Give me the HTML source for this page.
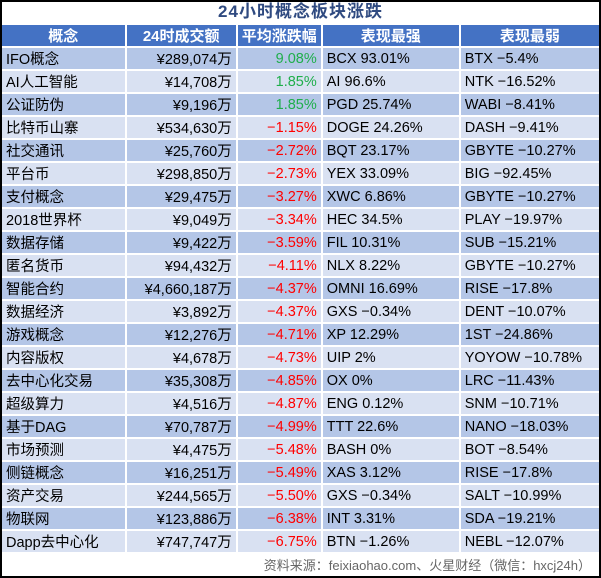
<!DOCTYPE html><html><head><meta charset="utf-8"><style>
body{margin:0;width:601px;height:578px;overflow:hidden;background:#fff;font-family:"Liberation Sans","Noto Sans CJK SC",sans-serif}
.frame{position:absolute;left:0;top:0;width:597px;height:574px;border:2px solid #000}
.title{position:absolute;left:0;top:0;width:601px;height:23px;line-height:24px;text-align:center;font-weight:bold;font-size:17px;letter-spacing:1px;color:#2f4a80}
table{position:absolute;left:0;top:23px;border-collapse:collapse;table-layout:fixed;font-size:14.5px}
td{height:21px;padding:0 4px;border:2px solid #fff;white-space:nowrap;overflow:hidden;color:#000}
tr.h td{background:#4472c4;color:#fff;font-weight:bold;text-align:center;font-size:15px}
tr:nth-child(even) td{background:#b4c6e7}
tr:nth-child(odd):not(.h) td{background:#d9e1f2}
td.r{text-align:right}
.g{color:#1fae4b!important}.d{color:#f00!important}
.foot{position:absolute;right:10px;top:555px;font-size:13px;color:#666}
</style></head><body>
<div class="title">24小时概念板块涨跌</div>
<table>
<colgroup><col style="width:126px"><col style="width:112px"><col style="width:82px"><col style="width:140px"><col style="width:141px"></colgroup>
<tr class="h"><td>概念</td><td>24时成交额</td><td>平均涨跌幅</td><td>表现最强</td><td>表现最弱</td></tr>
<tr><td>IFO概念</td><td class="r">¥289,074万</td><td class="r g">9.08%</td><td>BCX 93.01%</td><td>BTX −5.4%</td></tr>
<tr><td>AI人工智能</td><td class="r">¥14,708万</td><td class="r g">1.85%</td><td>AI 96.6%</td><td>NTK −16.52%</td></tr>
<tr><td>公证防伪</td><td class="r">¥9,196万</td><td class="r g">1.85%</td><td>PGD 25.74%</td><td>WABI −8.41%</td></tr>
<tr><td>比特币山寨</td><td class="r">¥534,630万</td><td class="r d">−1.15%</td><td>DOGE 24.26%</td><td>DASH −9.41%</td></tr>
<tr><td>社交通讯</td><td class="r">¥25,760万</td><td class="r d">−2.72%</td><td>BQT 23.17%</td><td>GBYTE −10.27%</td></tr>
<tr><td>平台币</td><td class="r">¥298,850万</td><td class="r d">−2.73%</td><td>YEX 33.09%</td><td>BIG −92.45%</td></tr>
<tr><td>支付概念</td><td class="r">¥29,475万</td><td class="r d">−3.27%</td><td>XWC 6.86%</td><td>GBYTE −10.27%</td></tr>
<tr><td>2018世界杯</td><td class="r">¥9,049万</td><td class="r d">−3.34%</td><td>HEC 34.5%</td><td>PLAY −19.97%</td></tr>
<tr><td>数据存储</td><td class="r">¥9,422万</td><td class="r d">−3.59%</td><td>FIL 10.31%</td><td>SUB −15.21%</td></tr>
<tr><td>匿名货币</td><td class="r">¥94,432万</td><td class="r d">−4.11%</td><td>NLX 8.22%</td><td>GBYTE −10.27%</td></tr>
<tr><td>智能合约</td><td class="r">¥4,660,187万</td><td class="r d">−4.37%</td><td>OMNI 16.69%</td><td>RISE −17.8%</td></tr>
<tr><td>数据经济</td><td class="r">¥3,892万</td><td class="r d">−4.37%</td><td>GXS −0.34%</td><td>DENT −10.07%</td></tr>
<tr><td>游戏概念</td><td class="r">¥12,276万</td><td class="r d">−4.71%</td><td>XP 12.29%</td><td>1ST −24.86%</td></tr>
<tr><td>内容版权</td><td class="r">¥4,678万</td><td class="r d">−4.73%</td><td>UIP 2%</td><td>YOYOW −10.78%</td></tr>
<tr><td>去中心化交易</td><td class="r">¥35,308万</td><td class="r d">−4.85%</td><td>OX 0%</td><td>LRC −11.43%</td></tr>
<tr><td>超级算力</td><td class="r">¥4,516万</td><td class="r d">−4.87%</td><td>ENG 0.12%</td><td>SNM −10.71%</td></tr>
<tr><td>基于DAG</td><td class="r">¥70,787万</td><td class="r d">−4.99%</td><td>TTT 22.6%</td><td>NANO −18.03%</td></tr>
<tr><td>市场预测</td><td class="r">¥4,475万</td><td class="r d">−5.48%</td><td>BASH 0%</td><td>BOT −8.54%</td></tr>
<tr><td>侧链概念</td><td class="r">¥16,251万</td><td class="r d">−5.49%</td><td>XAS 3.12%</td><td>RISE −17.8%</td></tr>
<tr><td>资产交易</td><td class="r">¥244,565万</td><td class="r d">−5.50%</td><td>GXS −0.34%</td><td>SALT −10.99%</td></tr>
<tr><td>物联网</td><td class="r">¥123,886万</td><td class="r d">−6.38%</td><td>INT 3.31%</td><td>SDA −19.21%</td></tr>
<tr><td>Dapp去中心化</td><td class="r">¥747,747万</td><td class="r d">−6.75%</td><td>BTN −1.26%</td><td>NEBL −12.07%</td></tr>
</table>
<div class="foot">资料来源：feixiaohao.com、火星财经（微信：hxcj24h）</div>
<div class="frame"></div>
</body></html>
